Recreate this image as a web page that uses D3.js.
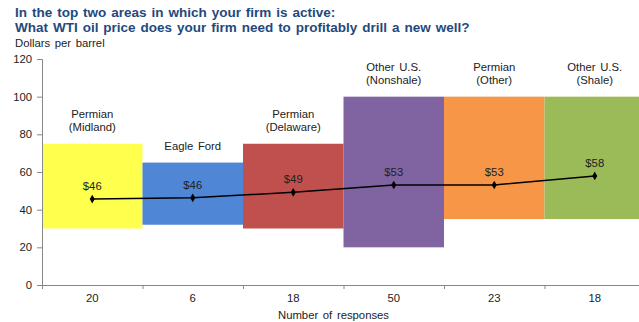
<!DOCTYPE html>
<html><head><meta charset="utf-8">
<script src="https://cdn.jsdelivr.net/npm/d3@7"></script>
<style>body{margin:0;background:#fff;}svg{display:block;font-family:Arial,"Liberation Sans",sans-serif;}</style>
</head><body><svg id="c" width="639" height="322"></svg>
<script>
const categories = [["Permian","(Midland)"],["Eagle Ford"],["Permian","(Delaware)"],["Other U.S.","(Nonshale)"],["Permian","(Other)"],["Other U.S.","(Shale)"]];
const responses = ["20","6","18","50","23","18"];
const rangeLow = [30,32,30,20,35,35];
const rangeHigh = [75,65,75,100,100,100];
const medianPrice = [45.6,46.3,49.2,53.1,53.1,57.9];
const priceLabels = ["$46","$46","$49","$53","$53","$58"];
const barColors = ["#FFFF4D","#4F86D6","#C0504D","#8064A2","#F79646","#9BBB59"];
const yTicks = [0,20,40,60,80,100,120];

(function(){
const svg = d3.select("#c");
const mLeft = 42, mRight = 645, mTop = 59, mBottom = 285;
const fs = 11.3;
const x = d3.scaleBand().domain(d3.range(categories.length)).range([mLeft,mRight]).padding(0);
const y = d3.scaleLinear().domain([0,120]).range([mBottom,mTop]);

// title
const title = svg.append("text").attr("fill","#1F497D").attr("font-weight","bold").attr("font-size",13.5).attr("word-spacing",1.2);
title.append("tspan").attr("x",15).attr("y",17).text("In the top two areas in which your firm is active:");
title.append("tspan").attr("x",15).attr("y",32).text("What WTI oil price does your firm need to profitably drill a new well?");
svg.append("text").attr("x",15).attr("y",47).attr("font-size",fs).attr("word-spacing",1.5).attr("fill","#222").text("Dollars per barrel");

// bars
svg.selectAll("rect.bar").data(d3.range(categories.length)).join("rect")
  .attr("x",i=>x(i)).attr("width",x.bandwidth())
  .attr("y",i=>y(rangeHigh[i])).attr("height",i=>y(rangeLow[i])-y(rangeHigh[i]))
  .attr("fill",i=>barColors[i]);

// category labels
categories.forEach((lines,i)=>{
  const cx = x(i)+x.bandwidth()/2;
  const baseY = y(rangeHigh[i]) - 13;
  lines.forEach((t,j)=>{
    svg.append("text").attr("x",cx).attr("y",baseY-(lines.length-1-j)*13)
      .attr("text-anchor","middle").attr("font-size",fs).attr("word-spacing",1.5).attr("fill","#222").text(t);
  });
});

// y axis
const yAxis = svg.append("g").attr("transform",`translate(${mLeft},0)`)
  .call(d3.axisLeft(y).tickValues(yTicks).tickSize(5).tickPadding(5));
yAxis.select(".domain").attr("stroke","#888");
yAxis.selectAll(".tick line").attr("stroke","#888");
yAxis.selectAll(".tick text").attr("font-size",fs).attr("fill","#222").attr("font-family","Arial, 'Liberation Sans', sans-serif");

// x axis
const xb = d3.scaleLinear().domain([0,categories.length]).range([mLeft,mRight]);
const xAxis = svg.append("g").attr("transform",`translate(0,${mBottom})`)
  .call(d3.axisBottom(xb).tickValues(d3.range(categories.length+1)).tickSize(4).tickFormat(""));
xAxis.select(".domain").attr("stroke","#888");
xAxis.selectAll(".tick line").attr("stroke","#888");
svg.selectAll("text.resp").data(responses).join("text")
  .attr("x",(d,i)=>x(i)+x.bandwidth()/2).attr("y",302)
  .attr("text-anchor","middle").attr("font-size",fs).attr("fill","#222").text(d=>d);
svg.append("text").attr("x",(mLeft+mRight)/2-10).attr("y",319).attr("text-anchor","middle")
  .attr("font-size",fs).attr("word-spacing",1.5).attr("fill","#222").text("Number of responses");

// line
const line = d3.line().x((d,i)=>x(i)+x.bandwidth()/2).y(d=>y(d));
svg.append("path").datum(medianPrice).attr("d",line).attr("fill","none").attr("stroke","#000").attr("stroke-width",1.5);
svg.selectAll("path.dot").data(medianPrice).join("path")
  .attr("transform",(d,i)=>`translate(${x(i)+x.bandwidth()/2},${y(d)})`)
  .attr("d",d3.symbol(d3.symbolDiamond,22)).attr("fill","#000");
svg.selectAll("text.val").data(medianPrice).join("text")
  .attr("x",(d,i)=>x(i)+x.bandwidth()/2).attr("y",d=>y(d)-9)
  .attr("text-anchor","middle").attr("font-size",fs).attr("fill","#222").text((d,i)=>priceLabels[i]);
})();
</script></body></html>
